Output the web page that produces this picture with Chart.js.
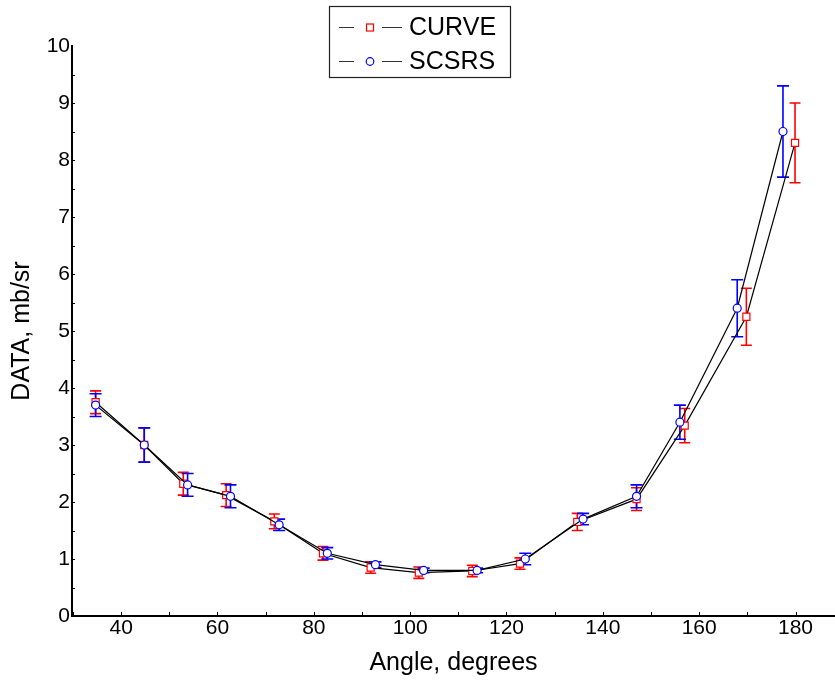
<!DOCTYPE html>
<html>
<head>
<meta charset="utf-8">
<script src="https://cdn.jsdelivr.net/npm/chart.js@4"></script>
<style>
  html, body { margin: 0; padding: 0; background: #fff; }
  #wrap { width: 835px; height: 684px; }
</style>
</head>
<body>
<div id="wrap"><canvas id="myChart" width="835" height="684"></canvas></div>
<script>
// data
const curveAngles = [34.7, 44.8, 52.9, 61.8, 71.8, 81.9, 91.8, 101.8, 112.9, 122.8, 134.7, 147, 157, 169.8, 179.9];
const curveValues = [3.75, 3.0, 2.32, 2.12, 1.66, 1.1, 0.85, 0.76, 0.79, 0.92, 1.65, 2.05, 3.34, 5.25, 8.3];
const curveErrors = [0.2, 0.3, 0.2, 0.2, 0.13, 0.12, 0.1, 0.1, 0.1, 0.1, 0.15, 0.2, 0.3, 0.5, 0.7];

const scsrsAngles = [34.7, 44.8, 53.8, 62.7, 72.8, 82.8, 92.8, 102.8, 113.9, 123.9, 135.9, 147, 156, 167.9, 177.4];
const scsrsValues = [3.7, 3.0, 2.3, 2.1, 1.6, 1.1, 0.9, 0.8, 0.8, 1.0, 1.7, 2.1, 3.4, 5.4, 8.5];
const scsrsErrors = [0.2, 0.3, 0.2, 0.2, 0.1, 0.1, 0.05, 0.04, 0.04, 0.1, 0.1, 0.2, 0.3, 0.5, 0.8];

const xTicks = [40, 60, 80, 100, 120, 140, 160, 180];
const seriesNames = ['CURVE', 'SCSRS'];

const FONT = 'Liberation Sans, Arial, sans-serif';

function toPoints(xs, ys) {
  return xs.map((x, i) => ({ x: x, y: ys[i] }));
}

// error bars drawn under the markers
const errorBars = {
  id: 'errorBars',
  beforeDatasetsDraw(chart) {
    const { ctx, scales: { x, y } } = chart;
    const sets = [
      { xs: curveAngles, ys: curveValues, es: curveErrors, color: '#ff0000', cap: 5.5 },
      { xs: scsrsAngles, ys: scsrsValues, es: scsrsErrors, color: '#0000ff', cap: 6 }
    ];
    ctx.save();
    sets.forEach(s => {
      ctx.strokeStyle = s.color;
      ctx.lineWidth = 1.6;
      s.xs.forEach((a, i) => {
        const px = x.getPixelForValue(a);
        const top = y.getPixelForValue(s.ys[i] + s.es[i]);
        const bot = y.getPixelForValue(s.ys[i] - s.es[i]);
        ctx.beginPath();
        ctx.moveTo(px, top); ctx.lineTo(px, bot);
        ctx.moveTo(px - s.cap, top); ctx.lineTo(px + s.cap, top);
        ctx.moveTo(px - s.cap, bot); ctx.lineTo(px + s.cap, bot);
        ctx.stroke();
      });
    });
    ctx.restore();
  }
};

// small inward ticks plus the boxed legend
const extras = {
  id: 'extras',
  afterDraw(chart) {
    const { ctx, scales: { x, y }, chartArea } = chart;
    ctx.save();
    ctx.strokeStyle = '#000';
    ctx.lineWidth = 1;
    ctx.beginPath();
    for (let a = 30; a <= 180; a += 10) {
      const px = Math.round(x.getPixelForValue(a)) + 0.5;
      ctx.moveTo(px, chartArea.bottom);
      ctx.lineTo(px, chartArea.bottom - 4);
    }
    for (let v = 0.5; v < 10; v += 0.5) {
      const py = Math.round(y.getPixelForValue(v)) + 0.5;
      ctx.moveTo(chartArea.left, py);
      ctx.lineTo(chartArea.left + 3, py);
    }
    ctx.stroke();

    // legend
    const bx = 329.5, by = 6.5, bw = 181, bh = 71;
    ctx.fillStyle = '#fff';
    ctx.fillRect(bx, by, bw, bh);
    ctx.strokeStyle = '#222';
    ctx.lineWidth = 1.2;
    ctx.strokeRect(bx, by, bw, bh);
    const rows = [27.5, 61.5];
    ctx.font = '25px ' + FONT;
    ctx.textBaseline = 'middle';
    rows.forEach((ry, i) => {
      ctx.strokeStyle = '#333';
      ctx.lineWidth = 1;
      ctx.beginPath();
      ctx.moveTo(339, ry); ctx.lineTo(354, ry);
      ctx.moveTo(382, ry); ctx.lineTo(402, ry);
      ctx.stroke();
      ctx.fillStyle = '#fff';
      ctx.lineWidth = 1.2;
      if (i === 0) {
        ctx.strokeStyle = '#ff0000';
        ctx.fillRect(366.5, ry - 3.5, 7, 7);
        ctx.strokeRect(366.5, ry - 3.5, 7, 7);
      } else {
        ctx.strokeStyle = '#0000ff';
        ctx.beginPath();
        ctx.arc(370, ry, 3.8, 0, Math.PI * 2);
        ctx.fill();
        ctx.stroke();
      }
      ctx.fillStyle = '#000';
      ctx.fillText(seriesNames[i], 409, ry + 1);
    });
    ctx.restore();
  }
};

const chartData = {
  datasets: [
    {
      label: seriesNames[0],
      data: toPoints(curveAngles, curveValues),
      borderColor: '#000',
      borderWidth: 1.2,
      pointStyle: 'rect',
      pointRadius: 5,
      pointBorderColor: '#ff0000',
      pointBackgroundColor: '#fff',
      pointBorderWidth: 1.2,
      order: 2
    },
    {
      label: seriesNames[1],
      data: toPoints(scsrsAngles, scsrsValues),
      borderColor: '#000',
      borderWidth: 1.2,
      pointStyle: 'circle',
      pointRadius: 4,
      pointBorderColor: '#0000ff',
      pointBackgroundColor: '#fff',
      pointBorderWidth: 1.2,
      order: 1
    }
  ]
};

const config = {
  type: 'line',
  data: chartData,
  options: {
    responsive: false,
    animation: false,
    layout: { autoPadding: false, padding: { top: 46, right: 0, left: 0, bottom: 0 } },
    plugins: {
      legend: { display: false },
      tooltip: { enabled: false }
    },
    scales: {
      x: {
        type: 'linear',
        min: 29.8,
        max: 188.2,
        afterFit(scale) {
          scale.height = 68;
          scale.paddingLeft = 0;
          scale.paddingRight = 0;
        },
        afterBuildTicks(scale) { scale.ticks = xTicks.map(v => ({ value: v })); },
        grid: { display: false, drawTicks: false },
        border: { display: true, color: '#000', width: 2 },
        ticks: { color: '#000', font: { family: FONT, size: 21 }, padding: 0, maxRotation: 0, autoSkip: false },
        title: { display: true, text: 'Angle, degrees', color: '#000', font: { family: FONT, size: 25 }, padding: { top: 0, bottom: 6 } }
      },
      y: {
        min: 0,
        max: 10,
        afterFit(scale) {
          scale.width = 72;
          scale.paddingTop = 0;
          scale.paddingBottom = 0;
        },
        grid: { display: false, drawTicks: false },
        border: { display: true, color: '#000', width: 2 },
        ticks: { stepSize: 1, color: '#000', font: { family: FONT, size: 21 }, padding: 2 },
        title: { display: true, text: 'DATA, mb/sr', color: '#000', font: { family: FONT, size: 25 }, padding: { top: 7, bottom: 0 } }
      }
    }
  },
  plugins: [errorBars, extras]
};

let myChart = new Chart(document.getElementById('myChart'), config);
</script>
</body>
</html>
